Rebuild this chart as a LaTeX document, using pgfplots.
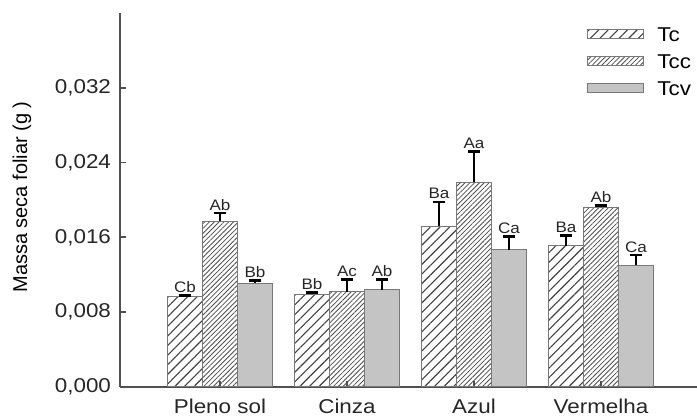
\documentclass[border=0pt]{standalone}
\usepackage{pgfplots}
\pgfplotsset{compat=1.18}
\usepackage{pgfplotstable}
\usetikzlibrary{patterns.meta}
\usepackage{fontspec}
\setmainfont{Liberation Sans}[FakeStretch=1.12]
\newfontfamily\ylfont{Liberation Sans}

\pgfplotstableread{
x y e lab
0 0.0097 0.0001 Cb
1 0.0099 0.0002 Bb
2 0.0172 0.0026 Ba
3 0.0151 0.0011 Ba
}\tcdata
\pgfplotstableread{
x y e lab
0 0.0177 0.0009 Ab
1 0.0102 0.0013 Ac
2 0.0219 0.0033 Aa
3 0.0192 0.0002 Ab
}\tccdata
\pgfplotstableread{
x y e lab
0 0.0111 0.0003 Bb
1 0.0104 0.0011 Ab
2 0.0147 0.0014 Ca
3 0.0130 0.0011 Ca
}\tcvdata

\definecolor{axgray}{RGB}{80,80,80}
\definecolor{bargray}{RGB}{120,120,120}
\definecolor{tcvfill}{RGB}{196,196,196}

\begin{document}
\begin{tikzpicture}
\begin{axis}[
  scale only axis,
  width=288.5pt, height=187pt,
  xmin=-0.787, xmax=3.756,
  ymin=0, ymax=0.040,
  axis x line*=bottom, axis y line*=left,
  axis line style={axgray, line width=1.1pt},
  xtick={0,1,2,3},
  xticklabels={Pleno sol, Cinza, Azul, Vermelha},
  ytick={0,0.008,0.016,0.024,0.032},
  yticklabels={{0,000},{0,008},{0,016},{0,024},{0,032}},
  scaled y ticks=false,
  tick align=inside,
  major tick length=3pt,
  tick style={axgray, line width=0.9pt},
  ticklabel style={font=\fontsize{10}{12}\selectfont, text=black!85},
  xticklabel style={yshift=-2.5pt},
  yticklabel style={xshift=-1pt},
  every axis y label/.style={at={(axis description cs:-0.17,0.508)}, rotate=90, anchor=center},
  ylabel={\ylfont\fontsize{10}{12}\selectfont Massa seca foliar (g )},
  legend style={at={(0.799,0.978)}, anchor=north west, draw=none, fill=none,
    font=\fontsize{10}{12}\selectfont, row sep=5pt,
    nodes={inner sep=0.5pt, text height=7.5pt, text depth=0pt}},
  legend cell align=left,
  legend image code/.code={\draw[#1, line width=0.5pt] (0pt,-2.3pt) rectangle (28pt,2.3pt);\path (34pt,0pt);},
  error bars/error bar style={solid, black, line width=1.2pt},
  error bars/error mark options={rotate=90, mark size=3.2pt, line width=1.2pt, black},
  nodes near coords style={font=\fontsize{7.6}{9}\selectfont, anchor=south, inner sep=1.2pt, text=black!85},
  clip=false,
]
\addplot[ybar, bar width=0.2756, bar shift=0, draw=bargray, line width=0.5pt,
  fill=white, pattern={Lines[angle=45, distance=3.4pt, line width=0.55pt]}, pattern color=black!75,
  error bars/.cd, y dir=plus, y explicit]
  table[x expr=\thisrow{x}-0.2756, y=y, y error=e] {\tcdata};
\addlegendentry{Tc}
\addplot[ybar, bar width=0.2756, bar shift=0, draw=bargray, line width=0.5pt,
  pattern={Lines[angle=45, distance=1.7pt, line width=0.4pt]}, pattern color=black!70,
  error bars/.cd, y dir=plus, y explicit]
  table[x=x, y=y, y error=e] {\tccdata};
\addlegendentry{Tcc}
\addplot[ybar, bar width=0.2756, bar shift=0, draw=bargray, line width=0.5pt,
  fill=tcvfill,
  error bars/.cd, y dir=plus, y explicit]
  table[x expr=\thisrow{x}+0.2756, y=y, y error=e] {\tcvdata};
\addlegendentry{Tcv}

\addplot[draw=none, mark=none, forget plot, nodes near coords, point meta=explicit symbolic]
  table[x expr=\thisrow{x}-0.2756, y expr=\thisrow{y}+\thisrow{e}, meta=lab] {\tcdata};
\addplot[draw=none, mark=none, forget plot, nodes near coords, point meta=explicit symbolic]
  table[x expr=\thisrow{x}, y expr=\thisrow{y}+\thisrow{e}, meta=lab] {\tccdata};
\addplot[draw=none, mark=none, forget plot, nodes near coords, point meta=explicit symbolic]
  table[x expr=\thisrow{x}+0.2756, y expr=\thisrow{y}+\thisrow{e}, meta=lab] {\tcvdata};
\end{axis}
\pgfresetboundingbox
\path ([shift={(-60pt,-15pt)}]current axis.south west) rectangle ([shift={(0pt,6.5pt)}]current axis.north east);
\end{tikzpicture}
\end{document}
